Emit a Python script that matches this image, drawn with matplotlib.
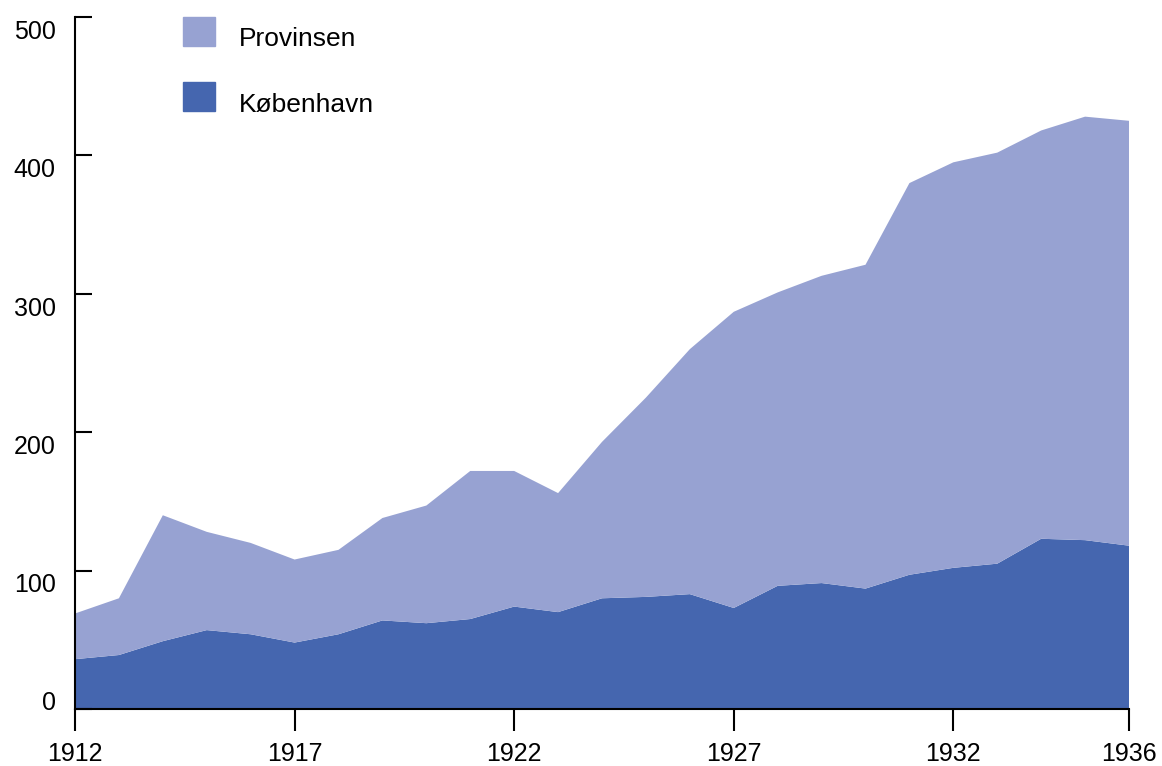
import numpy as np
import matplotlib.pyplot as plt
import matplotlib.transforms as mtransforms
from matplotlib.patches import Patch

plt.rcParams['font.family'] = ['Liberation Sans', 'DejaVu Sans']
plt.rcParams['font.size'] = 18

# data
years = list(range(1912, 1937))
kobenhavn = [36, 39, 49, 57, 54, 48, 54, 64, 62, 65, 74, 70, 80,
             81, 83, 73, 89, 91, 87, 97, 102, 105, 123, 122, 118]
provinsen = [33, 41, 91, 71, 66, 60, 61, 74, 85, 107, 98, 86, 113,
             144, 177, 214, 212, 222, 234, 283, 293, 297, 295, 306, 307]

xticks = [1912, 1917, 1922, 1927, 1932, 1936]
yticks = [0, 100, 200, 300, 400, 500]

COL_KBH = '#4566AF'
COL_PROV = '#97A2D2'

fig = plt.figure(figsize=(11.62, 7.66), dpi=100)
ax = fig.add_axes([75/1162, 1 - 709/766, (1129 - 75)/1162, (709 - 17)/766])

ax.stackplot(years, kobenhavn, provinsen, colors=[COL_KBH, COL_PROV], linewidth=0)

ax.set_xlim(1912, 1936)
ax.set_ylim(0, 500)
ax.set_xticks(xticks)
ax.set_yticks(yticks)

for s in ['top', 'right']:
    ax.spines[s].set_visible(False)
for s in ['left', 'bottom']:
    ax.spines[s].set_linewidth(1.5)

ax.tick_params(axis='y', direction='in', length=12.5, width=1.5, pad=14)
ax.tick_params(axis='x', direction='out', length=16, width=1.5, pad=8)

# y labels sit a bit below their ticks, the 0 one a bit above
for lab in ax.get_yticklabels():
    lab.set_verticalalignment('top')
    if lab.get_text() == '0':
        dy = 13 / 72
    else:
        dy = -2 / 72
    lab.set_transform(lab.get_transform() + mtransforms.ScaledTranslation(0, dy, fig.dpi_scale_trans))

handles = [Patch(color=COL_PROV, label='Provinsen'), Patch(color=COL_KBH, label='København')]
leg = ax.legend(handles=handles, loc='upper left', bbox_to_anchor=(183/1162, 1 - 17/766),
                bbox_transform=fig.transFigure, frameon=False, borderpad=0, borderaxespad=0,
                handlelength=1.21, handleheight=1.3, handletextpad=0.9, labelspacing=1.38,
                fontsize=19)
for t in leg.get_texts():
    t.set_transform(t.get_transform() + mtransforms.ScaledTranslation(0, -4.5 / 72, fig.dpi_scale_trans))

plt.savefig('out.png', dpi=100)
